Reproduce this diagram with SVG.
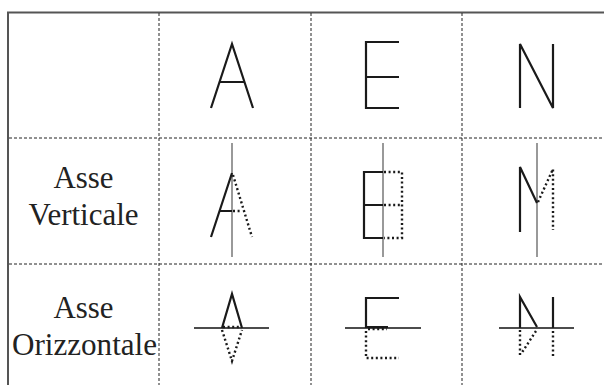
<svg xmlns="http://www.w3.org/2000/svg" width="604" height="385" viewBox="0 0 604 385">
<style>
.border{stroke:#555;stroke-width:2;fill:none}
.grid{stroke:#222;stroke-width:1;stroke-dasharray:3 2;fill:none}
.g{stroke:#1a1a1a;stroke-width:2.2;fill:none;stroke-linejoin:miter}
.d{stroke:#1a1a1a;stroke-width:2.4;fill:none;stroke-dasharray:2 2.6}
.ax{stroke:#555;stroke-width:1.2;fill:none}
.ah{stroke:#111;stroke-width:1.3;fill:none}
.lbl{font-family:"Liberation Serif","Times New Roman",serif;font-size:32px;fill:#222;text-anchor:middle}
</style>
<rect width="604" height="385" fill="#fff"/>
<g id="table">
<path class="border" d="M8 385V12.5H604"/>
<path class="grid" d="M159 13V385M311 13V385M462 13V385M9 138H604M9 264H604"/>
</g>
<g id="labels">
<text class="lbl" x="83.5" y="188" textLength="60" lengthAdjust="spacingAndGlyphs">Asse</text>
<text class="lbl" x="83.5" y="225" textLength="110" lengthAdjust="spacingAndGlyphs">Verticale</text>
<text class="lbl" x="83.5" y="318" textLength="60" lengthAdjust="spacingAndGlyphs">Asse</text>
<text class="lbl" x="84.5" y="355" textLength="145" lengthAdjust="spacingAndGlyphs">Orizzontale</text>
</g>
<g id="row1">
<path class="g" d="M211 108L232 44L253 108M219 82H245"/>
<path class="g" d="M399 42H366V108H399M366 77H399"/>
<path class="g" d="M520 108V44L553 108V44"/>
</g>
<g id="row2">
<path class="ax" d="M232 143V257"/>
<path class="g" d="M211 237L232 173M220 211H232"/>
<path class="d" d="M233 175L252 237M233 211H241"/>
<path class="ax" d="M383 143V257"/>
<path class="g" d="M383 172H364V238H383M364 205H383"/>
<path class="d" d="M384 172H402V238H384M384 205H402"/>
<path class="ax" d="M537 143V257"/>
<path class="g" d="M520 232V167L537 203"/>
<path class="d" d="M538 202L553 169V230"/>
</g>
<g id="row3">
<path class="ah" d="M194 328H269"/>
<path class="g" d="M222 328L232 294L242 328"/>
<path class="d" d="M222 330L232 361L242 330M223 327H241"/>
<path class="ah" d="M345 328H421"/>
<path class="g" d="M399 298H366V328M366 327H388"/>
<path class="d" d="M366 331V358H399M368 329H387"/>
<path class="ah" d="M499 328H574"/>
<path class="g" d="M520 328V297L537 327M553 297V328"/>
<path class="d" d="M520 330V355M536 331L521 354M553 331V358"/>
</g>
</svg>
